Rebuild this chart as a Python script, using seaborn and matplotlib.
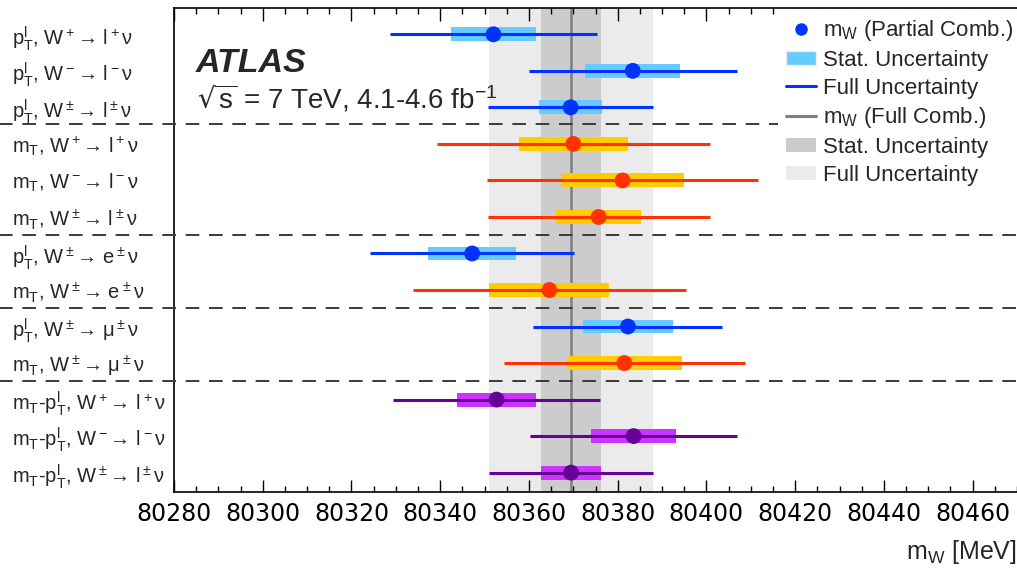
import numpy as np
import pandas as pd
import matplotlib
matplotlib.use("Agg")
import matplotlib.pyplot as plt
import matplotlib.transforms as mtransforms
from matplotlib.lines import Line2D
from matplotlib.patches import Patch
from matplotlib.ticker import MultipleLocator
import seaborn as sns

# --- data -------------------------------------------------------------
labels = [
    r'p$_T^l$, W$^+$→ l$^+$ν',
    r'p$_T^l$, W$^-$→ l$^-$ν',
    r'p$_T^l$, W$^\pm$→ l$^\pm$ν',
    r'm$_T$, W$^+$→ l$^+$ν',
    r'm$_T$, W$^-$→ l$^-$ν',
    r'm$_T$, W$^\pm$→ l$^\pm$ν',
    r'p$_T^l$, W$^\pm$→ e$^\pm$ν',
    r'm$_T$, W$^\pm$→ e$^\pm$ν',
    r'p$_T^l$, W$^\pm$→ μ$^\pm$ν',
    r'm$_T$, W$^\pm$→ μ$^\pm$ν',
    r'm$_T$-p$_T^l$, W$^+$→ l$^+$ν',
    r'm$_T$-p$_T^l$, W$^-$→ l$^-$ν',
    r'm$_T$-p$_T^l$, W$^\pm$→ l$^\pm$ν',
]
mw = [80352.0, 80383.4, 80369.4, 80370.0, 80381.1, 80375.7, 80347.2,
      80364.6, 80382.3, 80381.5, 80352.7, 80383.6, 80369.5]
stat = [9.6, 10.7, 7.1, 12.3, 13.9, 9.6, 9.9, 13.5, 10.1, 13.0, 8.9, 9.6, 6.8]
total = [23.4, 23.5, 18.6, 30.8, 30.5, 25.0, 23.0, 30.8, 21.3, 27.2, 23.3, 23.3, 18.5]
group = ['pt', 'pt', 'pt', 'mt', 'mt', 'mt', 'pt', 'mt', 'pt', 'mt', 'comb', 'comb', 'comb']

comb_mw = 80369.5
comb_stat = 6.8
comb_total = 18.5

separators = [2.45, 5.5, 7.5, 9.5]

# colours: (line/point, stat band)
line_col = {'pt': '#0033ff', 'mt': '#ff3300', 'comb': '#660099'}
band_col = {'pt': '#66ccff', 'mt': '#ffcc00', 'comb': '#cc33ff'}

df = pd.DataFrame({'row': np.arange(len(mw)), 'mw': mw, 'stat': stat,
                   'total': total, 'group': group})

# --- style ------------------------------------------------------------
sns.set_theme(style='ticks')
plt.rcParams['font.family'] = ['Liberation Sans', 'DejaVu Sans']
plt.rcParams['mathtext.default'] = 'regular'

fig = plt.figure(figsize=(10.17, 5.68), dpi=100)
ax = fig.add_axes([0.1711, 0.1338, 0.8289, 0.8521])

# full combination bands
ax.axvspan(comb_mw - comb_total, comb_mw + comb_total, color='#ebebeb', lw=0, zorder=0)
ax.axvspan(comb_mw - comb_stat, comb_mw + comb_stat, color='#cccccc', lw=0, zorder=0.5)
ax.axvline(comb_mw, color='#7f7f7f', lw=1.8, zorder=1)

# stat bands and full uncertainty lines
for _, r in df.iterrows():
    ax.barh(r['row'], 2 * r['stat'], left=r['mw'] - r['stat'], height=0.38,
            color=band_col[r['group']], lw=0, zorder=2)
    ax.hlines(r['row'], r['mw'] - r['total'], r['mw'] + r['total'],
              color=line_col[r['group']], lw=2.2, zorder=3)

sns.scatterplot(data=df, x='mw', y='row', hue='group', palette=line_col,
                s=130, linewidth=0, legend=False, zorder=4, ax=ax)

# separators reaching into the label area
trans = mtransforms.blended_transform_factory(ax.transAxes, ax.transData)
for y in separators:
    ax.plot([-0.21, 1.0], [y, y], transform=trans, color='#3a3a3a', lw=1.4,
            dashes=(7, 5), clip_on=False, zorder=3.5)

ax.set_xlim(80280, 80470)
ax.set_ylim(12.53, -0.72)
ax.xaxis.set_major_locator(MultipleLocator(20))
ax.xaxis.set_minor_locator(MultipleLocator(5))
ax.tick_params(axis='x', which='both', direction='in', top=True, bottom=True,
               labelsize=17, pad=7, width=1, colors='black')
ax.tick_params(axis='x', which='major', length=9)
ax.tick_params(axis='x', which='minor', length=4.5)
for lab in ax.get_xticklabels():
    lab.set_family('DejaVu Sans')

ax.set_yticks(range(len(labels)))
ax.set_yticklabels(labels, ha='left', fontsize=14.5)
ax.tick_params(axis='y', length=0, pad=117)

ax.set_xlabel(r'm$_W$ [MeV]', fontsize=18, loc='right', labelpad=9)
ax.set_ylabel('')

for side in ['left', 'top', 'bottom']:
    ax.spines[side].set_color('black')
    ax.spines[side].set_linewidth(1.2)
ax.spines['right'].set_visible(False)

ax.text(0.026, 0.886, 'ATLAS', transform=ax.transAxes, fontsize=24.5,
        fontweight='bold', fontstyle='italic', va='center', ha='left')
ax.text(0.027, 0.812, r'$\sqrt{s}$ = 7 TeV, 4.1-4.6 fb$^{-1}$', transform=ax.transAxes,
        fontsize=20, va='center', ha='left')

handles = [
    Line2D([], [], ls='none', marker='o', ms=9, color=line_col['pt'], mec='none'),
    Patch(facecolor=band_col['pt'], edgecolor='#eeeeee'),
    Line2D([], [], color=line_col['pt'], lw=2.2),
    Line2D([], [], color='#7f7f7f', lw=2.2),
    Patch(facecolor='#cccccc', edgecolor='none'),
    Patch(facecolor='#ebebeb', edgecolor='none'),
]
leg_labels = [r'm$_W$ (Partial Comb.)', 'Stat. Uncertainty', 'Full Uncertainty',
              r'm$_W$ (Full Comb.)', 'Stat. Uncertainty', 'Full Uncertainty']
leg = ax.legend(handles, leg_labels, loc='upper left', bbox_to_anchor=(0.716, 0.997),
                fontsize=16, frameon=True, facecolor='white', edgecolor='none',
                framealpha=1, fancybox=False, handlelength=1.35, handleheight=0.6,
                handletextpad=0.3, labelspacing=0.3, borderpad=0.4, borderaxespad=0)
leg.set_zorder(6)

fig.savefig('out.png', dpi=100)
